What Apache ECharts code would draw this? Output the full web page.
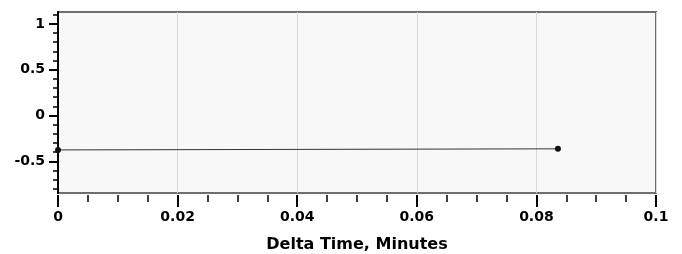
<!DOCTYPE html>
<html>
<head>
<meta charset="utf-8">
<script src="https://cdn.jsdelivr.net/npm/echarts@6/dist/echarts.min.js"></script>
<style>
  html, body { margin: 0; padding: 0; background: #fff; }
  #chart { width: 682px; height: 254px; }
</style>
</head>
<body>
<div id="chart"></div>
<script>
// values
const deltaTime = [0, 0.0836];
const values = [-0.375, -0.363];
const yMajor = [-0.5, 0, 0.5, 1];
const yMinor = [-0.8, -0.7, -0.6, -0.4, -0.3, -0.2, -0.1, 0.1, 0.2, 0.3, 0.4, 0.6, 0.7, 0.8, 0.9, 1.1];
const xAxisName = 'Delta Time, Minutes';

const chart = echarts.init(document.getElementById('chart'));

const labelFont = {
  fontFamily: 'DejaVu Sans',
  fontWeight: 'bold',
  fontSize: 14,
  color: '#000'
};

const option = {
  animation: false,
  grid: {
    left: 58,
    right: 26,
    top: 12,
    bottom: 61,
    outerBoundsMode: 'none',
    containLabel: false,
    show: true,
    backgroundColor: '#f8f8f8',
    borderColor: '#6e6e6e',
    borderWidth: 2
  },
  xAxis: {
    type: 'value',
    min: 0,
    max: 0.1,
    interval: 0.02,
    offset: 2,
    name: xAxisName,
    nameLocation: 'middle',
    nameGap: 42,
    nameTextStyle: {
      fontFamily: 'DejaVu Sans',
      fontWeight: 'bold',
      fontSize: 16,
      color: '#000'
    },
    axisLine: { show: false, onZero: false },
    axisTick: {
      show: true,
      length: 12,
      lineStyle: { color: '#000', width: 2 }
    },
    minorTick: {
      show: true,
      splitNumber: 4,
      length: 7,
      lineStyle: { color: '#000', width: 1.5 }
    },
    axisLabel: Object.assign({ margin: 15, formatter: v => String(v) }, labelFont),
    splitLine: { show: true, lineStyle: { color: '#d9d9d9', width: 1 } }
  },
  yAxis: [
    {
      type: 'value',
      min: -0.845,
      max: 1.13,
      axisLine: { show: true, onZero: false, lineStyle: { color: '#000', width: 2 } },
      axisTick: {
        show: true,
        length: 9,
        customValues: yMajor,
        lineStyle: { color: '#000', width: 2 }
      },
      axisLabel: Object.assign({ margin: 13, customValues: yMajor, formatter: v => String(v) }, labelFont),
      splitLine: { show: false }
    },
    {
      type: 'value',
      min: -0.845,
      max: 1.13,
      position: 'left',
      axisLine: { show: false, onZero: false },
      axisTick: {
        show: true,
        length: 5,
        customValues: yMinor,
        lineStyle: { color: '#000', width: 1.5 }
      },
      axisLabel: { show: false },
      splitLine: { show: false }
    }
  ],
  series: [{
    type: 'line',
    data: deltaTime.map((t, i) => [t, values[i]]),
    symbol: 'circle',
    symbolSize: 6,
    lineStyle: { color: '#333', width: 1 },
    itemStyle: { color: '#111' }
  }]
};

chart.setOption(option);
</script>
</body>
</html>
